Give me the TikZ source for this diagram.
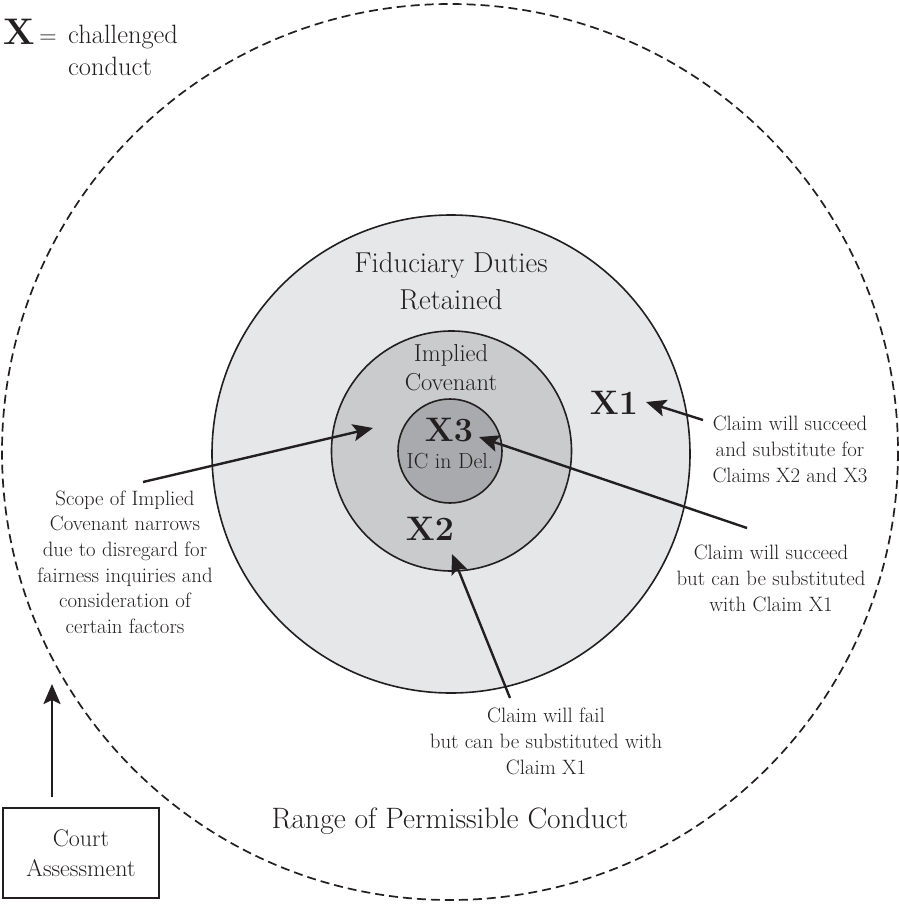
\documentclass[tikz,border=0pt]{standalone}
\usepackage{fontspec}
\setmainfont{Latin Modern Roman}
\usetikzlibrary{arrows.meta}
\definecolor{fidfill}{HTML}{E6E7E8}
\definecolor{icfill}{HTML}{CACBCD}
\definecolor{delfill}{HTML}{A9AAAD}
\definecolor{ink}{HTML}{231F20}
\tikzset{
  ring/.style={draw=ink, line width=1.6pt},
  lbl/.style={text=ink, align=center, inner sep=0pt},
  claim/.style={lbl, font=\fontsize{20.8}{26}\selectfont},
  bigx/.style={lbl, font=\fontsize{34}{34}\selectfont\bfseries},
  ptr/.style={draw=ink, line width=2.4pt, -{Stealth[length=20pt,width=17pt,inset=4pt]}},
}
\begin{document}
\begin{tikzpicture}[x=1pt,y=-1pt]
\useasboundingbox (0,0) rectangle (899,905);
% circles
\draw[draw=ink, line width=1.7pt, dash pattern=on 9pt off 5pt] (450,452) circle[radius=448];
\filldraw[ring, fill=fidfill] (451,454) circle[radius=239];
\filldraw[ring, fill=icfill] (451.5,451) circle[radius=120];
\filldraw[ring, fill=delfill] (450,451) circle[radius=52];
% legend
\node[lbl, anchor=base, font=\fontsize{37}{37}\selectfont\bfseries] (legx) at (19,44) {X};
\node[lbl, anchor=base, font=\fontsize{24}{24}\selectfont] (legeq) at (48,43) {=};
\node[lbl, anchor=base west, font=\fontsize{26.5}{32}\selectfont] (legtxt1) at (68,43) {challenged};
\node[lbl, anchor=base west, font=\fontsize{26.5}{32}\selectfont] (legtxt2) at (68,75) {conduct};
% region labels
\node[lbl, font=\fontsize{28.8}{37}\selectfont] (fid) at (451,281) {Fiduciary Duties\\Retained};
\node[lbl, font=\fontsize{24.5}{29}\selectfont] (ic) at (451,368) {Implied\\Covenant};
\node[lbl, font=\fontsize{29.5}{30}\selectfont] (range) at (450,821) {Range of Permissible Conduct};
\node[lbl, font=\fontsize{21.8}{22}\selectfont] (del) at (450,461) {IC in Del.};
% X labels
\node[bigx] (x3) at (449,430) {X3};
\node[bigx] (x2) at (430,529) {X2};
\node[bigx] (x1) at (614,403) {X1};
% claim texts
\node[claim] (c1) at (790,449) {Claim will succeed\\and substitute for\\Claims X2 and X3};
\node[claim] (c2) at (771,578) {Claim will succeed\\but can be substituted\\with Claim X1};
\node[claim] (c3) at (546,741) {Claim will fail\\but can be substituted with\\Claim X1};
\node[claim, font=\fontsize{20.8}{25.6}\selectfont] (scope) at (125,562) {Scope of Implied\\Covenant narrows\\due to disregard for\\fairness inquiries and\\consideration of\\certain factors};
% court box
\node[draw=ink, line width=1.5pt, minimum width=156pt, minimum height=90pt, align=center, text=ink, font=\fontsize{24}{30}\selectfont] (court) at (81,853) {Court\\Assessment};
% arrow coordinates
\coordinate (c1s) at (703,420);
\coordinate (x1t) at (646,402);
\coordinate (c2s) at (747,528);
\coordinate (x3t) at (479,437);
\coordinate (c3s) at (510,698);
\coordinate (x2t) at (452,554);
\coordinate (scs) at (143,482);
\coordinate (ict) at (373,428);
\coordinate (cts) at (52,797);
\coordinate (ctt) at (52,684);
% arrows
\draw[ptr] (c1s) -- (x1t);
\draw[ptr] (c2s) -- (x3t);
\draw[ptr] (c3s) -- (x2t);
\draw[ptr] (scs) -- (ict);
\draw[ptr] (cts) -- (ctt);
\end{tikzpicture}
\end{document}
